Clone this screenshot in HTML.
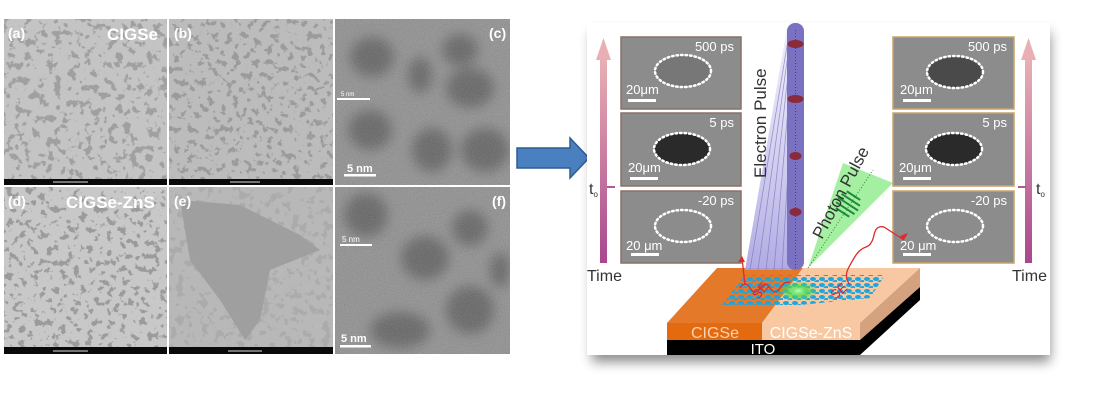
<!DOCTYPE html>
<html><head><meta charset="utf-8"><style>
html,body{margin:0;padding:0;background:#fff;width:1096px;height:402px;overflow:hidden}
svg{display:block;font-family:"Liberation Sans",sans-serif}
</style></head><body>
<svg width="1096" height="402" viewBox="0 0 1096 402" xmlns="http://www.w3.org/2000/svg">
<defs>
<filter id="net" x="0" y="0" width="100%" height="100%">
<feTurbulence type="fractalNoise" baseFrequency="0.13" numOctaves="3" seed="3"/>
<feColorMatrix type="matrix" values="0 0 0 0 0.35  0 0 0 0 0.35  0 0 0 0 0.35  -14 0 0 0 6.1"/>
</filter>
<filter id="net2" x="0" y="0" width="100%" height="100%">
<feTurbulence type="fractalNoise" baseFrequency="0.15" numOctaves="3" seed="7"/>
<feColorMatrix type="matrix" values="0 0 0 0 0.33  0 0 0 0 0.33  0 0 0 0 0.33  -14 0 0 0 6.0"/>
</filter>
<filter id="grain" x="0" y="0" width="100%" height="100%">
<feTurbulence type="fractalNoise" baseFrequency="0.9" numOctaves="2" seed="5"/>
<feColorMatrix type="matrix" values="1 0 0 0 0  1 0 0 0 0  1 0 0 0 0  0 0 0 0 0.5"/>
</filter>
<filter id="blur6"><feGaussianBlur stdDeviation="6"/></filter>
<filter id="shadow" x="-10%" y="-10%" width="120%" height="130%"><feGaussianBlur stdDeviation="6"/></filter>
<clipPath id="cc"><rect x="335" y="19" width="175" height="166"/></clipPath>
<clipPath id="cf"><rect x="335" y="187" width="175" height="167"/></clipPath>
<linearGradient id="tarrow" x1="0" y1="1" x2="0" y2="0"><stop offset="0" stop-color="#a8478e"/><stop offset="1" stop-color="#e8b0b4"/></linearGradient>
<linearGradient id="beam" x1="0" y1="1" x2="0" y2="0"><stop offset="0" stop-color="#a8a2e0" stop-opacity=".9"/><stop offset="1" stop-color="#c8c4ec" stop-opacity=".3"/></linearGradient>
<radialGradient id="glow"><stop offset="0" stop-color="#b8ffb0"/><stop offset=".5" stop-color="#4fd84a" stop-opacity=".8"/><stop offset="1" stop-color="#4fd84a" stop-opacity="0"/></radialGradient>
<pattern id="dots" width="9" height="6" patternUnits="userSpaceOnUse"><ellipse cx="3" cy="3" rx="3" ry="2" fill="#1aa6e0"/><ellipse cx="7.5" cy="6" rx="3" ry="2" fill="#1aa6e0"/></pattern>
</defs>

<!-- LEFT TEM GRID -->
<rect x="3" y="18" width="508" height="337" fill="#fff"/>
<rect x="4" y="19" width="163" height="161" fill="#c4c4c4"/>
<rect x="4" y="19" width="163" height="161" filter="url(#net)"/>
<rect x="4" y="179" width="163" height="6" fill="#0a0a0a"/>
<line x1="53" y1="182" x2="88" y2="182" stroke="#ddd" stroke-width="1"/>
<rect x="169" y="19" width="164" height="161" fill="#bcbcbc"/>
<rect x="169" y="19" width="164" height="161" filter="url(#net2)"/>
<rect x="169" y="179" width="164" height="6" fill="#0a0a0a"/>
<line x1="230" y1="182" x2="260" y2="182" stroke="#ddd" stroke-width="1"/>
<g clip-path="url(#cc)">
<rect x="335" y="19" width="175" height="166" fill="#8e8e8e"/>
<g filter="url(#blur6)" fill="#606060">
<ellipse cx="372" cy="57" rx="22" ry="20"/><ellipse cx="460" cy="50" rx="18" ry="16"/><ellipse cx="470" cy="88" rx="24" ry="20"/>
<ellipse cx="370" cy="130" rx="22" ry="20"/><ellipse cx="432" cy="150" rx="20" ry="22"/><ellipse cx="485" cy="150" rx="24" ry="22"/><ellipse cx="420" cy="75" rx="12" ry="18"/>
</g>
<rect x="335" y="19" width="175" height="166" filter="url(#grain)" opacity=".35"/>
</g>
<rect x="337" y="98" width="33" height="2" fill="#fff"/><text x="341" y="96" font-size="6" fill="#fff">5 nm</text>
<rect x="344" y="174" width="32" height="2.5" fill="#fff"/><text x="347" y="172" font-size="11" font-weight="bold" fill="#fff">5 nm</text>
<rect x="4" y="187" width="163" height="161" fill="#c8c8c8"/>
<rect x="4" y="187" width="163" height="161" filter="url(#net2)"/>
<rect x="4" y="347" width="163" height="7" fill="#0a0a0a"/>
<line x1="53" y1="351" x2="88" y2="351" stroke="#ddd"/>
<rect x="169" y="187" width="164" height="161" fill="#b8b8b8"/>
<path d="M180 200 L240 205 L300 235 L320 250 L270 270 L260 320 L245 340 L220 300 L190 260 Z" fill="#808080" opacity=".45"/>
<rect x="169" y="187" width="164" height="161" filter="url(#net)" opacity=".5"/>
<rect x="169" y="347" width="164" height="7" fill="#0a0a0a"/>
<line x1="228" y1="351" x2="262" y2="351" stroke="#ddd"/>
<g clip-path="url(#cf)">
<rect x="335" y="187" width="175" height="167" fill="#8e8e8e"/>
<g filter="url(#blur6)" fill="#606060">
<ellipse cx="366" cy="215" rx="22" ry="22"/><ellipse cx="425" cy="258" rx="24" ry="22"/><ellipse cx="470" cy="228" rx="18" ry="18"/>
<ellipse cx="470" cy="310" rx="24" ry="24"/><ellipse cx="400" cy="330" rx="30" ry="18"/><ellipse cx="500" cy="270" rx="10" ry="18"/>
</g>
<rect x="335" y="187" width="175" height="167" filter="url(#grain)" opacity=".35"/>
</g>
<rect x="340" y="244" width="32" height="2" fill="#fff"/><text x="342" y="242" font-size="8" fill="#fff">5 nm</text>
<rect x="340" y="345" width="31" height="2.5" fill="#fff"/><text x="341" y="342" font-size="11" font-weight="bold" fill="#fff">5 nm</text>
<g font-size="14" font-weight="bold" fill="#fff">
<text x="8" y="38">(a)</text><text x="107" y="40" font-size="17">CIGSe</text>
<text x="174" y="38">(b)</text><text x="489" y="38">(c)</text>
<text x="8" y="206">(d)</text><text x="66" y="208" font-size="17">CIGSe-ZnS</text>
<text x="174" y="206">(e)</text><text x="492" y="206">(f)</text>
</g>

<path d="M517 148 H570 V138 L589 158 L570 178 V168 H517 Z" fill="#4a7fc0" stroke="#2e5c94" stroke-width="1.5"/>

<rect x="592" y="32" width="458" height="330" fill="#000" opacity=".45" filter="url(#shadow)"/>
<rect x="587" y="23" width="463" height="332" fill="#fff"/>

<rect x="600" y="58" width="7" height="205" fill="url(#tarrow)"/>
<path d="M596 60 L603.5 38 L611 60 Z" fill="#e8b0b4"/>
<rect x="607" y="186" width="8" height="2" fill="#b05898"/>
<text x="589" y="194" font-size="16" fill="#333">t<tspan font-size="8" dy="3">o</tspan></text>
<text x="587" y="281" font-size="16" fill="#333">Time</text>
<rect x="1025" y="58" width="7" height="205" fill="url(#tarrow)"/>
<path d="M1021 60 L1028.5 38 L1036 60 Z" fill="#e8b0b4"/>
<rect x="1018" y="186" width="8" height="2" fill="#b05898"/>
<text x="1036" y="194" font-size="16" fill="#333">t<tspan font-size="8" dy="3">o</tspan></text>
<text x="1012" y="281" font-size="16" fill="#333">Time</text>

<g font-size="13" fill="#fff">
<g stroke="#8a7068" stroke-width="1.5">
<rect x="621" y="37" width="120" height="72" fill="#8c8c8c"/>
<rect x="621" y="113" width="120" height="73" fill="#8c8c8c"/>
<rect x="621" y="191" width="120" height="72" fill="#8c8c8c"/>
</g>
<g stroke="#c9a468" stroke-width="1.5">
<rect x="893" y="37" width="121" height="72" fill="#8c8c8c"/>
<rect x="893" y="113" width="121" height="73" fill="#8c8c8c"/>
<rect x="893" y="191" width="121" height="72" fill="#8c8c8c"/>
</g>
<g stroke="#fff" stroke-width="2.5" stroke-dasharray="1.5 3" stroke-linecap="round">
<ellipse cx="683" cy="71" rx="28" ry="16" fill="#777"/>
<ellipse cx="682" cy="149" rx="28" ry="16" fill="#2a2a2a"/>
<ellipse cx="683" cy="226" rx="28" ry="16" fill="none"/>
<ellipse cx="955" cy="72" rx="28" ry="16" fill="#4a4a4a"/>
<ellipse cx="954" cy="149" rx="28" ry="16" fill="#2a2a2a"/>
<ellipse cx="955" cy="226" rx="28" ry="16" fill="none"/>
</g>
<text x="734" y="51" text-anchor="end">500 ps</text><text x="734" y="127" text-anchor="end">5 ps</text><text x="734" y="205" text-anchor="end">-20 ps</text>
<text x="1007" y="51" text-anchor="end">500 ps</text><text x="1007" y="127" text-anchor="end">5 ps</text><text x="1007" y="205" text-anchor="end">-20 ps</text>
<text x="626" y="94">20μm</text><text x="628" y="172">20μm</text><text x="626" y="250">20 μm</text>
<text x="900" y="94">20μm</text><text x="899" y="172">20μm</text><text x="900" y="250">20 μm</text>
<rect x="628" y="99" width="28" height="3"/><rect x="630" y="177" width="28" height="3"/><rect x="631" y="253" width="28" height="3"/>
<rect x="903" y="99" width="28" height="3"/><rect x="903" y="177" width="28" height="3"/><rect x="903" y="253" width="28" height="3"/>
</g>

<polygon points="667,323 717,268 803,268 762,323" fill="#e5792a"/>
<polygon points="762,323 803,268 920,268 860,323" fill="#f7c8a2"/>
<polygon points="860,323 920,268 920,287 860,340" fill="#d4a27e"/>
<polygon points="860,340 920,287 920,300 860,355" fill="#000"/>
<rect x="667" y="323" width="95" height="17" fill="#e36a0e"/>
<rect x="762" y="323" width="98" height="17" fill="#f7c8a2"/>
<rect x="667" y="340" width="193" height="15" fill="#000"/>
<text x="715" y="338" font-size="16" fill="#f6d3b5" text-anchor="middle">CIGSe</text>
<text x="811" y="338" font-size="16" fill="#fff" text-anchor="middle">CIGSe-ZnS</text>
<text x="763" y="354" font-size="15" fill="#fff" text-anchor="middle">ITO</text>
<polygon points="722,305 745,275 885,275 870,298 800,305" fill="url(#dots)"/>
<ellipse cx="798" cy="291" rx="20" ry="10" fill="url(#glow)"/>
<path d="M740 288 q5 -8 10 0 t10 0 t10 0 t10 0 t10 -5 M745 285 L742 258 M850 285 q-6 -8 -2 -16 t8 -14 t10 -8 t8 -12 t10 -8 L904 240" stroke="#e02a2a" stroke-width="1.3" fill="none"/>
<path d="M738 262 l4 -6 l3 6 Z M900 236 l8 -3 l-4 7 Z" fill="#e02a2a"/>
<text x="758" y="300" font-size="13" fill="#d23" transform="rotate(-50 758 300)">SE</text>
<text x="835" y="300" font-size="13" fill="#d23" transform="rotate(-40 835 300)">SE</text>

<polygon points="745,270 798,270 804,28 787,28" fill="url(#beam)"/>
<g stroke="#7a72c0" stroke-width=".8" opacity=".7">
<line x1="750" y1="270" x2="788" y2="40"/><line x1="758" y1="270" x2="790" y2="40"/><line x1="766" y1="270" x2="792" y2="40"/><line x1="774" y1="270" x2="794" y2="40"/><line x1="782" y1="270" x2="796" y2="40"/>
</g>
<rect x="787" y="23" width="17" height="247" rx="8" fill="#7a72c0"/>
<line x1="795.5" y1="30" x2="795.5" y2="270" stroke="#5a3a6a" stroke-dasharray="1 2"/>
<g fill="#8a2a3a"><ellipse cx="795.5" cy="44" rx="8" ry="4"/><ellipse cx="795.5" cy="99" rx="8" ry="4"/><ellipse cx="795.5" cy="156" rx="6" ry="4"/><ellipse cx="795.5" cy="212" rx="6" ry="4"/></g>
<text x="0" y="0" font-size="17" fill="#333" transform="translate(766 178) rotate(-90)">Electron Pulse</text>

<polygon points="808,268 843,163 893,183" fill="#7ee87a" opacity=".7"/>
<line x1="808" y1="268" x2="873" y2="170" stroke="#2a8a2a" stroke-dasharray="1 2"/>
<g transform="translate(848 204) rotate(-57)" stroke="#1e8a3a" stroke-width="2" fill="none">
<line x1="-10" y1="-8" x2="-10" y2="8"/><line x1="-5" y1="-11" x2="-5" y2="11"/><line x1="0" y1="-12" x2="0" y2="12"/><line x1="5" y1="-11" x2="5" y2="11"/><line x1="10" y1="-8" x2="10" y2="8"/>
</g>
<text x="0" y="0" font-size="17" fill="#333" transform="translate(822 240) rotate(-62)">Photon Pulse</text>
</svg>
</body></html>
